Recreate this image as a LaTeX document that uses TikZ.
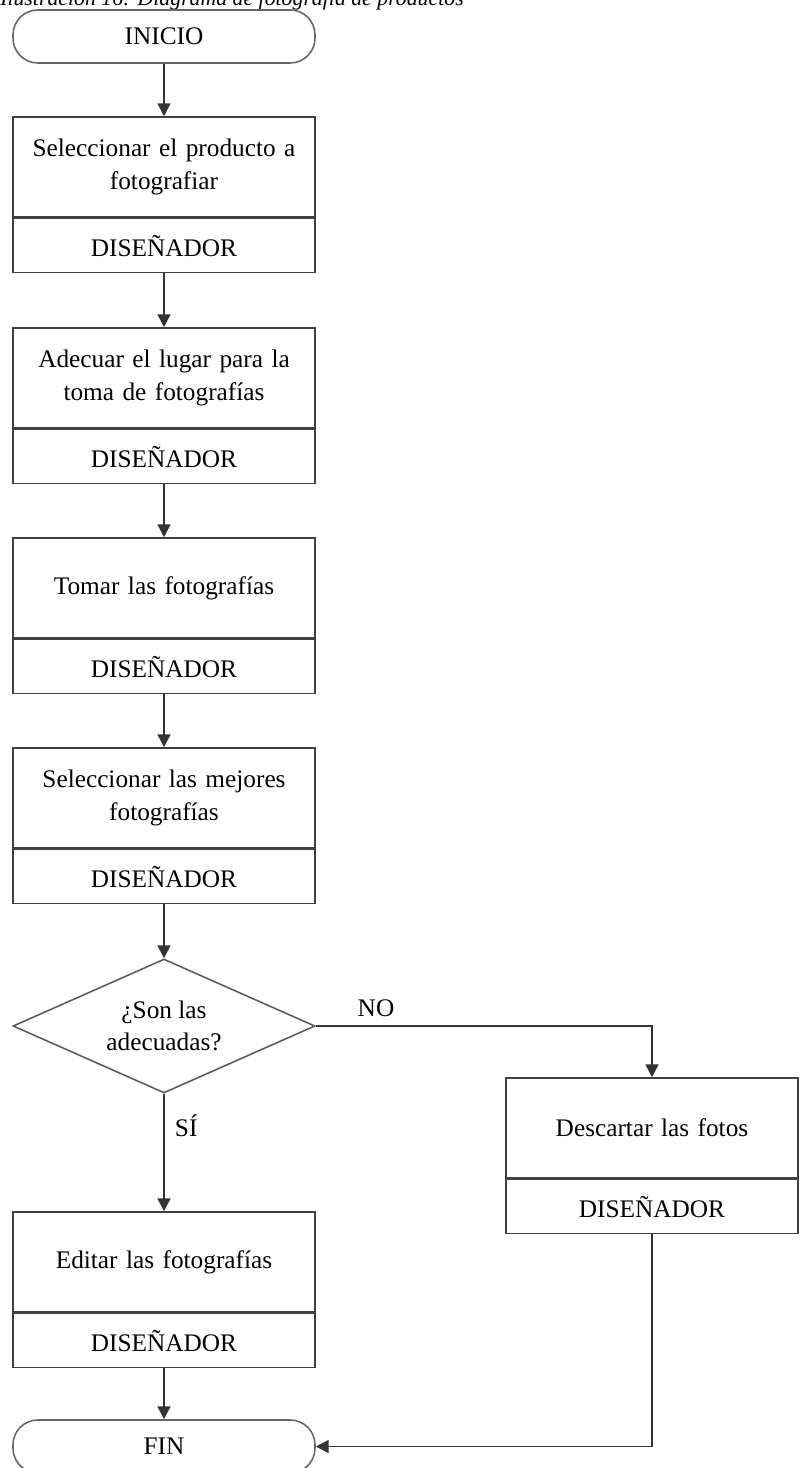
\documentclass[tikz,border=0pt]{standalone}
\usepackage{fontspec}
\setmainfont{Liberation Serif}
\usetikzlibrary{positioning,shapes.geometric,arrows.meta}

\tikzset{
  base/.style={draw=black!75, line width=1.1pt, font=\fontsize{18}{23}\selectfont, text=black, align=center},
  terminal/.style={base, rectangle, rounded corners=0.62cm, minimum width=7.55cm, minimum height=1.325cm, draw=black!60},
  tarea/.style={base, rectangle, minimum width=7.55cm, minimum height=2.5cm, text width=7cm},
  resp/.style={base, rectangle, minimum width=7.55cm, minimum height=1.35cm},
  decision/.style={base, diamond, aspect=2.25, minimum width=7.55cm, minimum height=3.35cm, inner sep=0pt, draw=black!65},
  flecha/.style={draw=black!80, line width=1.1pt, -{Triangle[width=0.32cm,length=0.32cm]}},
  etiqueta/.style={font=\fontsize{18}{23}\selectfont}
}

\begin{document}
\begin{tikzpicture}
	\useasboundingbox (0,0) rectangle (20,-36.7);
	% titulo (cortado arriba)
	\node[anchor=base west, inner sep=0pt, font=\fontsize{15.5}{19}\selectfont\itshape] (titulo) at (0,-0.15) {Ilustración 16: Diagrama de fotografía de productos};
	% inicio
	\node[terminal] (inicio) at (4.1,-0.9125) {INICIO};
	% pasos
	\node[tarea] (t1) at (4.1,-4.175) {Seleccionar el producto a\\fotografiar};
	\node[resp, below=0pt of t1] (r1) {DISEÑADOR};
	\node[tarea] (t2) at (4.1,-9.45) {Adecuar el lugar para la\\toma de fotografías};
	\node[resp, below=0pt of t2] (r2) {DISEÑADOR};
	\node[tarea] (t3) at (4.1,-14.7) {Tomar las fotografías};
	\node[resp, below=0pt of t3] (r3) {DISEÑADOR};
	\node[tarea] (t4) at (4.1,-19.95) {Seleccionar las mejores\\fotografías};
	\node[resp, below=0pt of t4] (r4) {DISEÑADOR};
	% decision
	\node[decision] (dec) at (4.1,-25.65) {¿Son las\\adecuadas?};
	\node[tarea] (t5) at (4.1,-31.55) {Editar las fotografías};
	\node[resp, below=0pt of t5] (r5) {DISEÑADOR};
	\node[tarea, minimum width=7.3cm] (t6) at (16.3,-28.2) {Descartar las fotos};
	\node[resp, minimum width=7.3cm, below=0pt of t6] (r6) {DISEÑADOR};
	% fin
	\node[terminal] (fin) at (4.1,-36.1625) {FIN};
	% etiquetas
	\node[etiqueta] (no) at (9.4,-25.2) {NO};
	\node[etiqueta, anchor=west] (si) at (4.25,-28.15) {SÍ};
	% conectores
	\draw[flecha] (inicio) -- (t1);
	\draw[flecha] (r1) -- (t2);
	\draw[flecha] (r2) -- (t3);
	\draw[flecha] (r3) -- (t4);
	\draw[flecha] (r4) -- (dec);
	\draw[flecha] (dec) -- (t5);
	\draw[flecha] (dec.east) -| (t6.north);
	\draw[flecha] (r5) -- (fin);
	\draw[flecha] (r6.south) |- (fin.east);
\end{tikzpicture}
\end{document}
